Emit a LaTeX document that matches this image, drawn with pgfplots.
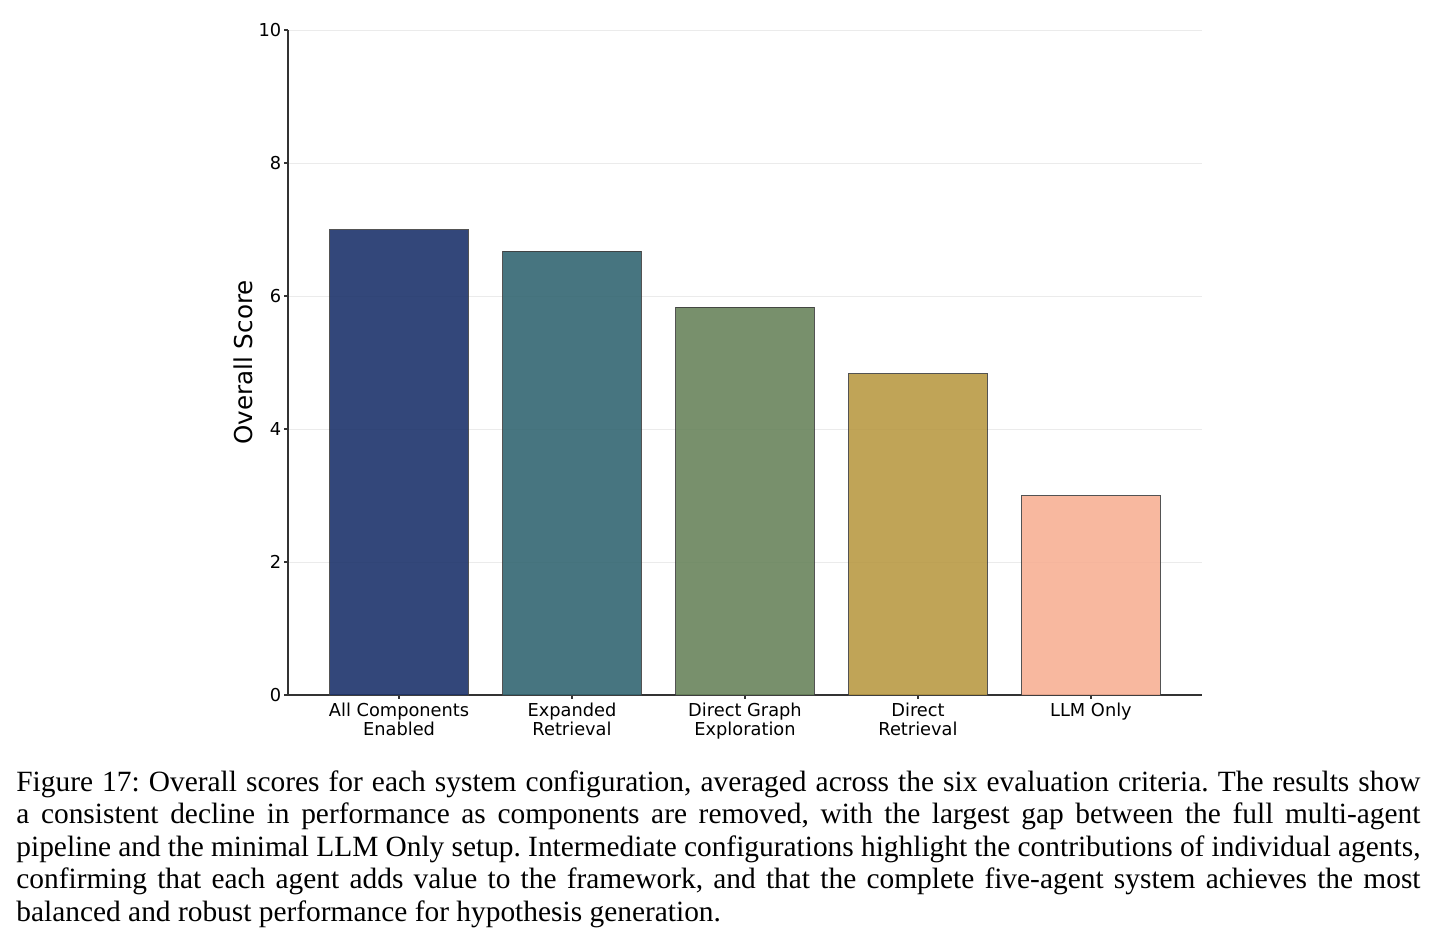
\documentclass[border=0pt]{standalone}
\usepackage{pgfplots}
\pgfplotsset{compat=1.18}
\usepackage{fontspec}
\setmainfont{DejaVu Sans}
\newfontfamily\capfont{Liberation Serif}
\definecolor{c1}{RGB}{29,51,107}
\definecolor{c2}{RGB}{51,102,114}
\definecolor{c3}{RGB}{105,132,92}
\definecolor{c4}{RGB}{185,154,69}
\definecolor{c5}{RGB}{247,176,149}
\begin{document}
\begin{tikzpicture}
\path (0pt,0pt) rectangle (719pt,-471pt);
\begin{axis}[
  at={(144pt,-347.5pt)}, anchor=south west,
  scale only axis, width=457pt, height=332.5pt,
  xmin=-0.642, xmax=4.642, ymin=0, ymax=10,
  axis x line*=bottom, axis y line*=left,
  axis line style={black!80, line width=0.6pt},
  ytick={0,2,4,6,8,10},
  xtick={0,1,2,3,4},
  xticklabels={{All Components\\Enabled},{Expanded\\Retrieval},{Direct Graph\\Exploration},{Direct\\Retrieval},{LLM Only}},
  tick align=outside, major tick length=1.8pt,
  tick style={black!80, line width=0.6pt},
  ymajorgrids, grid style={black!8, line width=0.5pt},
  /pgf/number format/assume math mode=true,
  tick label style={font=\fontsize{8.9}{10}\selectfont},
  xticklabel style={align=center, inner sep=0pt, yshift=-1.8pt, font=\fontsize{8.9}{9.9}\selectfont},
  yticklabel style={inner sep=0pt, xshift=-1.4pt},
  ylabel={Overall Score},
  every axis y label/.style={at={(axis description cs:-0.0487,0.5)}, rotate=90, anchor=center, font=\fontsize{12.3}{14}\selectfont},
  ybar, bar width=0.8, bar shift=0pt,
  every axis plot/.append style={draw=black!75, line width=0.5pt, fill opacity=0.9, draw opacity=0.9},
]
\addplot[fill=c1] coordinates {(0,7.00)};
\addplot[fill=c2] coordinates {(1,6.67)};
\addplot[fill=c3] coordinates {(2,5.83)};
\addplot[fill=c4] coordinates {(3,4.83)};
\addplot[fill=c5] coordinates {(4,3.00)};
\end{axis}
\node[anchor=north west, text width=702pt, align=justify, inner sep=0pt,
      font=\capfont\fontsize{14.7}{16.3}\selectfont] at (8pt,-385pt)
{\frenchspacing\hyphenpenalty=10000\tolerance=9999\emergencystretch=20pt Figure 17: Overall scores for each system configuration, averaged across the six evaluation criteria. The results show\linebreak
a consistent decline in performance as components are removed, with the largest gap between the full multi-agent\linebreak
pipeline and the minimal LLM Only setup. Intermediate configurations highlight the contributions of individual agents,\linebreak
confirming that each agent adds value to the framework, and that the complete five-agent system achieves the most\linebreak
balanced and robust performance for hypothesis generation.};
\end{tikzpicture}
\end{document}
